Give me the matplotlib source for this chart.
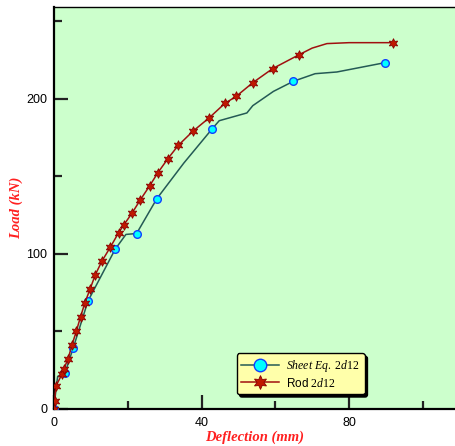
import matplotlib
matplotlib.use('Agg')
import matplotlib.pyplot as plt
from matplotlib.lines import Line2D

plt.rcParams['mathtext.fontset'] = 'custom'
plt.rcParams['mathtext.it'] = 'Liberation Serif:italic'
plt.rcParams['mathtext.rm'] = 'Liberation Serif'

# Sheet Eq. 2d12 : line path and marked points
sheet_x = [0, 0.5, 1.0, 3.0, 5.2, 9.2, 16.6, 19.5, 22.4, 27.9, 35.2, 42.9, 44.8,
           52.3, 53.9, 59.5, 64.9, 70.8, 76.7, 89.7]
sheet_y = [0, 12, 21, 23.4, 39.2, 69.5, 103, 112.5, 113.1, 135.6, 158.5, 180.6, 185.8,
           190.8, 195.5, 204.7, 211.2, 216.1, 217.2, 223.2]
sheet_mx = [0, 3.0, 5.2, 9.2, 16.6, 22.4, 27.9, 42.9, 64.9, 89.7]
sheet_my = [0, 23.4, 39.2, 69.5, 103, 113.1, 135.6, 180.6, 211.2, 223.2]

# Rod 2d12
rod_x = [0, 0.2, 0.5, 2.2, 2.6, 3.8, 4.9, 6.1, 7.2, 8.4, 9.8, 11.2, 13.0, 15.3, 17.5,
         19.0, 21.1, 23.3, 25.9, 28.2, 30.9, 33.7, 37.6, 42.1, 46.3, 49.4, 53.9, 59.3,
         66.5, 70.0, 74.0, 80.0, 92.0]
rod_y = [0, 5.4, 14.6, 22.6, 25.5, 32.2, 41.4, 50.5, 59.4, 68.6, 77.4, 86.5, 95.3, 104.4,
         113.5, 118.9, 126, 134.4, 143.7, 152.4, 161.4, 169.9, 178.9, 187.7, 196.9, 201.5,
         210.3, 219.4, 228.4, 232.6, 235.5, 236.1, 236.1]
rod_mx = rod_x[:29] + [92.0]
rod_my = rod_y[:29] + [236.1]

x_major = [0, 40, 80]
x_minor = [20, 60, 100]
y_major = [0, 100, 200]
y_minor = [50, 150, 250]

fig = plt.figure(figsize=(4.56, 4.46), dpi=100)
ax = fig.add_axes([0.1184, 0.083, 0.8816, 0.901])
ax.set_facecolor('#ccffcc')

sheet_col = '#245a55'
rod_col = '#a01010'
ax.plot(sheet_x, sheet_y, color=sheet_col, lw=1.1, zorder=2)
ax.plot(sheet_mx, sheet_my, ls='none', marker='o', ms=5.5, mfc='#00ffff',
        mec='#1040ff', mew=1.0, zorder=3)
ax.plot(rod_x, rod_y, color=rod_col, lw=1.1, zorder=4)
ax.plot(rod_mx, rod_my, ls='none', marker=(6, 1, 0), ms=7, mfc='#c01800',
        mec='#8a0000', mew=0.6, zorder=5)

ax.set_xlim(0, 109)
ax.set_ylim(0, 259)
ax.set_xticks(x_major)
ax.set_xticks(x_minor, minor=True)
ax.set_yticks(y_major)
ax.set_yticks(y_minor, minor=True)
ax.tick_params(which='both', direction='in', width=1.6, color='#222222',
               labelsize=9, labelfontfamily='Liberation Sans')
ax.tick_params(which='major', length=10)
ax.tick_params(which='minor', length=5.5)
ax.tick_params(axis='x', pad=6)
ax.tick_params(axis='y', pad=5)

ax.spines['right'].set_visible(False)
ax.spines['left'].set_linewidth(1.6)
ax.spines['bottom'].set_linewidth(1.6)
ax.spines['top'].set_linewidth(1.0)

lab_font = dict(family='Liberation Serif', style='italic', weight='bold',
                color='#ff2020', size=10.5)
ax.set_xlabel('Deflection (mm)', **lab_font)
ax.set_ylabel('Load (kN)', **lab_font)
ax.xaxis.set_label_coords(0.5, -0.053)
ax.yaxis.set_label_coords(-0.078, 0.5)

handles = [
    Line2D([], [], color=sheet_col, lw=1.1, marker='o', ms=9, mfc='#00ffff',
           mec='#1040ff', mew=1.0),
    Line2D([], [], color=rod_col, lw=1.1, marker=(6, 1, 0), ms=10, mfc='#c01800',
           mec='#8a0000', mew=0.6),
]
labels = [r'$\mathit{Sheet\ Eq.\ 2d12}$', r'Rod $\mathit{2d12}$']
leg = ax.legend(handles, labels, loc='lower left', bbox_to_anchor=(0.44, 0.022),
                prop={'family': 'Liberation Sans', 'size': 8.5}, handlelength=3.2,
                fancybox=True, framealpha=1, facecolor='#ffffaa', edgecolor='black',
                shadow={'color': 'black', 'alpha': 1}, borderpad=0.4,
                labelspacing=0.2, handletextpad=0.6)
leg.get_frame().set_linewidth(1.0)

fig.savefig('out.png', dpi=100)
